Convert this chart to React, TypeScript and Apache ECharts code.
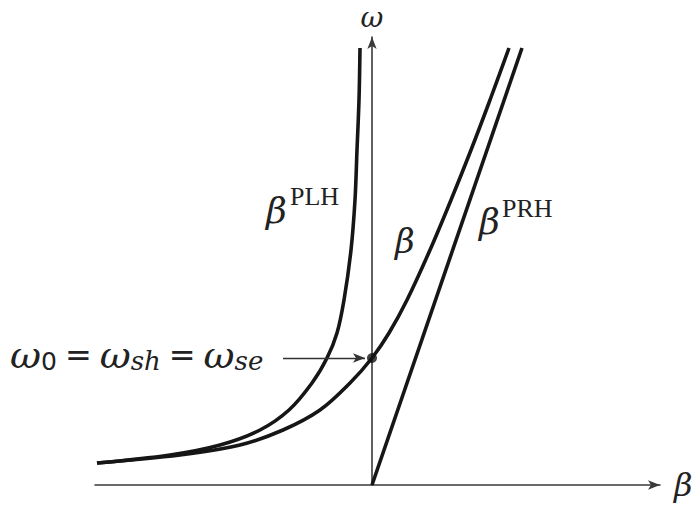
import React, { useEffect, useRef } from "react";
import * as echarts from "echarts";

// Dispersion curves, normalised units (β horizontal, ω vertical)
const crlhBeta = [-2.75, -1.92, -1.32, -0.89, -0.52, -0.22, 0, 0.17, 0.35, 0.58, 0.79, 0.99, 1.18, 1.37];
const crlhOmega = [0.22, 0.3, 0.4, 0.55, 0.75, 1.02, 1.27, 1.52, 1.85, 2.35, 2.85, 3.35, 3.85, 4.37];

const plhBeta = [-2.75, -2.02, -1.52, -1.12, -0.83, -0.6, -0.45, -0.35, -0.28, -0.21, -0.17, -0.15, -0.13, -0.12];
const plhOmega = [0.22, 0.3, 0.4, 0.55, 0.75, 1.02, 1.27, 1.52, 1.85, 2.35, 2.85, 3.35, 3.85, 4.37];

const prhBeta = [0, 1.5];
const prhOmega = [0, 4.37];

// transition frequency ω0 where β = 0
const omega0 = 1.27;
const arrowStartBeta = -0.89;
const arrowEndBeta = -0.07;

const betaRange = [-2.77, 2.88];
const omegaRange = [0, 4.48];

const zip = (xs: number[], ys: number[]) => xs.map((x, i) => [x, ys[i]]);

const INK = "#161616";
const AXIS = "#3a3a3a";
const TEXT = "#222";
const GREEK = "'DejaVu Serif', 'Liberation Serif', serif";
const SERIF = "'Liberation Serif', 'DejaVu Serif', serif";

export default function App() {
  const ref = useRef<HTMLDivElement>(null);

  useEffect(() => {
    if (!ref.current) return;
    const chart = echarts.init(ref.current, null, { renderer: "svg" });

    const curve = (name: string, data: number[][]) => ({
      name,
      type: "line",
      data,
      smooth: 0.35,
      showSymbol: false,
      lineStyle: { color: INK, width: 3.6 },
      z: 3,
    });

    chart.setOption({
      animation: false,
      backgroundColor: "#ffffff",
      grid: { left: 95, right: 37, top: 37, bottom: 24 },
      xAxis: {
        type: "value",
        min: betaRange[0],
        max: betaRange[1],
        name: "β",
        nameLocation: "end",
        nameGap: 14,
        nameTextStyle: { fontFamily: GREEK, fontStyle: "italic", fontSize: 32, color: TEXT, verticalAlign: "middle" },
        axisLine: {
          onZero: false,
          symbol: ["none", "arrow"],
          symbolSize: [7, 12],
          lineStyle: { color: AXIS, width: 1.6 },
        },
        axisTick: { show: false },
        axisLabel: { show: false },
        splitLine: { show: false },
      },
      yAxis: {
        type: "value",
        min: omegaRange[0],
        max: omegaRange[1],
        name: "ω",
        nameLocation: "end",
        nameGap: 6,
        nameTextStyle: { fontFamily: GREEK, fontStyle: "italic", fontSize: 28, color: TEXT, align: "center", verticalAlign: "bottom" },
        axisLine: {
          onZero: true,
          symbol: ["none", "arrow"],
          symbolSize: [7, 12],
          lineStyle: { color: AXIS, width: 1.6 },
        },
        axisTick: { show: false },
        axisLabel: { show: false },
        splitLine: { show: false },
      },
      series: [
        curve("βPLH", zip(plhBeta, plhOmega)),
        curve("β", zip(crlhBeta, crlhOmega)),
        {
          name: "βPRH",
          type: "line",
          data: zip(prhBeta, prhOmega),
          showSymbol: false,
          lineStyle: { color: INK, width: 3.6 },
          z: 3,
        },
        {
          name: "ω0",
          type: "scatter",
          data: [[0, omega0]],
          symbolSize: 10,
          itemStyle: { color: "#111" },
          z: 5,
          markLine: {
            silent: true,
            symbol: ["none", "arrow"],
            symbolSize: [7, 12],
            label: { show: false },
            lineStyle: { color: "#333", width: 1.4, type: "solid" },
            data: [[{ coord: [arrowStartBeta, omega0] }, { coord: [arrowEndBeta, omega0] }]],
          },
        },
      ],
      graphic: [
        {
          type: "text",
          left: 10,
          top: 336,
          style: {
            text: "{w|ω}{n|0}{e|=}{w|ω}{s|sh}{e|=}{w|ω}{s|se}",
            rich: {
              w: { fontFamily: GREEK, fontStyle: "italic", fontSize: 38, fill: TEXT },
              n: { fontFamily: "'DejaVu Sans', sans-serif", fontSize: 25, fill: TEXT, verticalAlign: "bottom" },
              s: { fontFamily: GREEK, fontStyle: "italic", fontSize: 26, fill: TEXT, verticalAlign: "bottom" },
              e: { fontFamily: "'DejaVu Sans', sans-serif", fontSize: 32, fill: TEXT, padding: [0, 8, 0, 8] },
            },
          },
        },
        {
          type: "text",
          x: 266,
          y: 228,
          style: { text: "β", fontFamily: GREEK, fontStyle: "italic", fontSize: 36, fill: TEXT, textVerticalAlign: "bottom" },
        },
        {
          type: "text",
          x: 290,
          y: 183,
          style: { text: "PLH", fontFamily: SERIF, fontSize: 26, fill: TEXT, textVerticalAlign: "top" },
        },
        {
          type: "text",
          x: 395,
          y: 258,
          style: { text: "β", fontFamily: GREEK, fontStyle: "italic", fontSize: 34, fill: TEXT, textVerticalAlign: "bottom" },
        },
        {
          type: "text",
          x: 479,
          y: 239,
          style: { text: "β", fontFamily: GREEK, fontStyle: "italic", fontSize: 36, fill: TEXT, textVerticalAlign: "bottom" },
        },
        {
          type: "text",
          x: 502,
          y: 195,
          style: { text: "PRH", fontFamily: SERIF, fontSize: 26, fill: TEXT, textVerticalAlign: "top" },
        },
      ],
    });

    return () => chart.dispose();
  }, []);

  return (
    <div
      ref={ref}
      style={{ position: "fixed", left: 0, top: 0, width: 697, height: 509, background: "#fff" }}
    />
  );
}
